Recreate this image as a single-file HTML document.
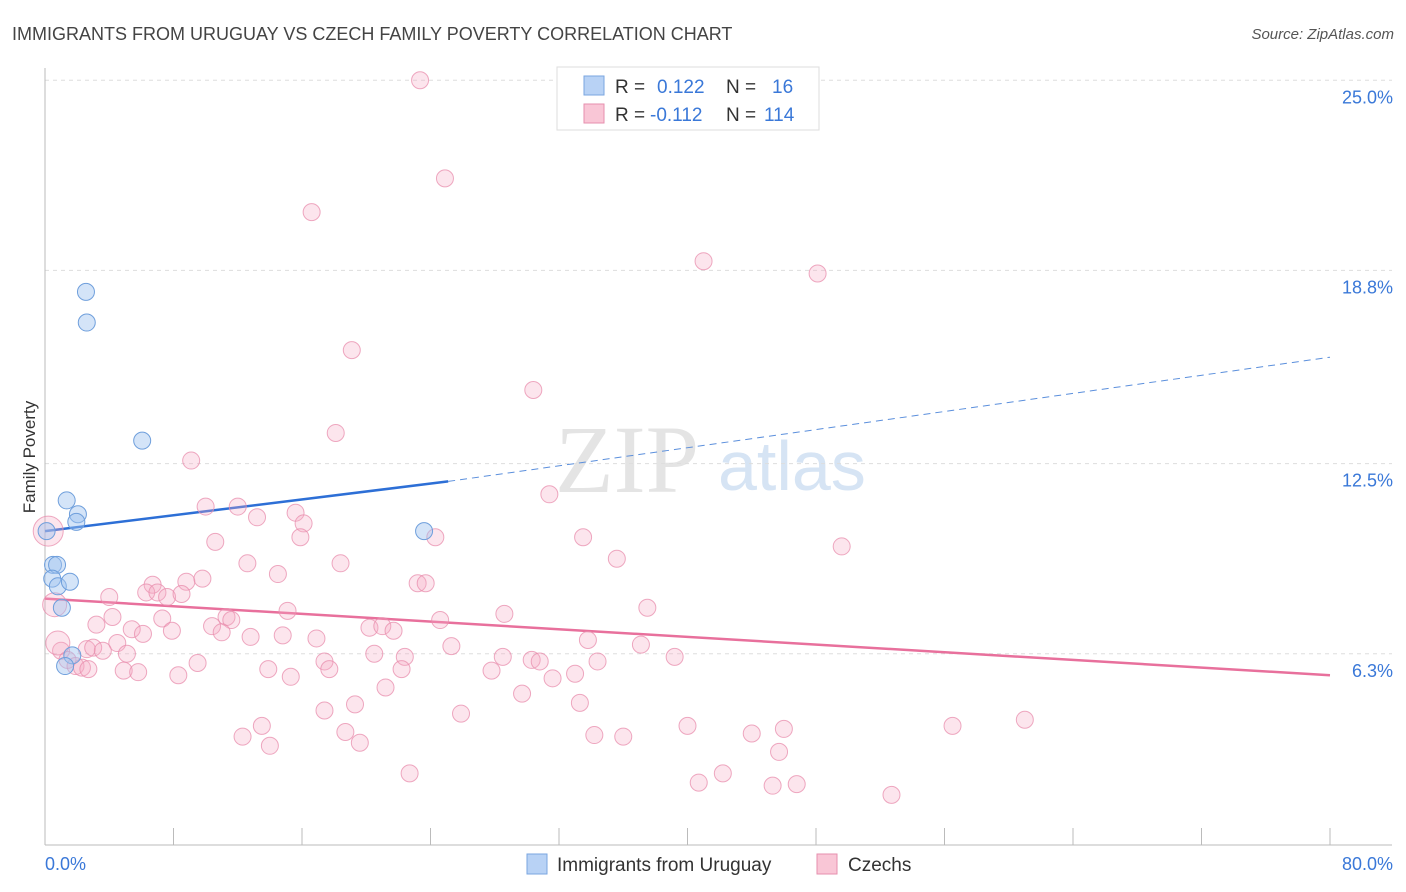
<!DOCTYPE html>
<html><head><meta charset="utf-8"><style>
body{margin:0;background:#fff;font-family:"Liberation Sans",sans-serif;}
svg{display:block}
</style></head><body>
<svg id="chart" width="1406" height="892" xmlns="http://www.w3.org/2000/svg">
<text x="12" y="40" font-size="18" fill="#444">IMMIGRANTS FROM URUGUAY VS CZECH FAMILY POVERTY CORRELATION CHART</text>
<text x="1394" y="39" font-size="15" fill="#555" font-style="italic" text-anchor="end">Source: ZipAtlas.com</text>
<text x="35" y="457" font-size="17" fill="#333" text-anchor="middle" transform="rotate(-90 35 457)">Family Poverty</text>
<g>
<text x="555" y="492" font-size="96" font-family="Liberation Serif,serif" fill="#e4e4e4">ZIP</text>
<text x="718" y="490" font-size="70" fill="#d6e4f4">atlas</text>
</g>
<g id="grid"></g><g id="axes"></g><g id="lines"></g><g id="pts"></g>
<g>
<rect x="557" y="67" width="262" height="63" fill="#fff" stroke="#ddd"/>
<rect x="584" y="76" width="20" height="19" fill="#b8d2f5" stroke="#7aa6e0"/>
<rect x="584" y="104" width="20" height="19" fill="#f9c6d6" stroke="#e68fae"/>
<text x="615" y="93" font-size="19" fill="#333">R = </text><text x="657" y="93" font-size="19" fill="#3a78d8">0.122</text>
<text x="726" y="93" font-size="19" fill="#333">N = </text><text x="772" y="93" font-size="19" fill="#3a78d8">16</text>
<text x="615" y="121" font-size="19" fill="#333">R = </text><text x="650" y="121" font-size="19" fill="#3a78d8">-0.112</text>
<text x="726" y="121" font-size="19" fill="#333">N = </text><text x="764" y="121" font-size="19" fill="#3a78d8">114</text>
</g>
<g>
<rect x="527" y="854" width="20" height="20" fill="#b8d2f5" stroke="#7aa6e0"/>
<text x="557" y="871" font-size="19" fill="#333">Immigrants from Uruguay</text>
<rect x="817" y="854" width="20" height="20" fill="#f9c6d6" stroke="#e68fae"/>
<text x="848" y="871" font-size="19" fill="#333">Czechs</text>
</g>
</svg>
<script>
const yTicks=[25.0,18.8,12.5,6.3];
const yTickLabels=["25.0%","18.8%","12.5%","6.3%"];
const xTicks=[0,8,16,24,32,40,48,56,64,72,80];
const blueX=[0.1,0.5,0.75,0.45,0.8,1.55,1.05,1.35,2.05,1.95,2.55,2.6,6.05,1.7,1.25,23.6];
const blueY=[10.3,9.2,9.2,8.75,8.5,8.65,7.8,11.3,10.85,10.6,18.1,17.1,13.25,6.25,5.9,10.3];
const pinkX=[23.35,24.9,16.6,41.0,48.1,19.1,30.4,18.1,9.1,31.4,10.0,12.0,13.2,15.6,16.1,15.9,24.3,33.5,49.6,10.6,35.6,12.6,18.4,14.5,6.7,8.8,9.8,23.2,23.7,4.0,6.3,7.0,7.6,8.5,37.5,15.1,28.6,24.6,4.2,7.3,11.3,11.6,3.2,10.4,5.4,7.9,11.0,20.2,21.0,21.7,33.8,16.9,14.8,12.8,6.1,4.5,2.6,3.0,3.6,5.1,1.0,1.4,25.3,37.1,20.5,22.4,9.5,17.4,28.5,30.3,30.8,34.4,39.2,1.9,2.3,2.7,4.9,5.8,8.3,13.9,15.3,17.7,22.2,27.8,31.6,33.0,21.2,29.7,19.3,33.3,17.4,25.9,13.5,12.3,18.7,19.6,14.0,34.2,36.0,40.0,44.0,46.0,56.5,61.0,45.7,22.7,42.2,40.7,45.3,46.8,52.7,0.6,0.8,0.2];
const pinkY=[25.0,21.8,20.7,19.1,18.7,16.2,14.9,13.5,12.6,11.5,11.1,11.1,10.75,10.9,10.55,10.1,10.1,10.1,9.8,9.95,9.4,9.25,9.25,8.9,8.55,8.65,8.75,8.6,8.6,8.15,8.3,8.3,8.15,8.25,7.8,7.7,7.6,7.4,7.5,7.45,7.5,7.4,7.25,7.2,7.1,7.05,7.0,7.15,7.2,7.05,6.75,6.8,6.9,6.85,6.95,6.65,6.45,6.5,6.4,6.3,6.4,6.1,6.55,6.6,6.3,6.2,6.0,6.05,6.2,6.1,6.05,6.05,6.2,5.9,5.85,5.8,5.75,5.7,5.6,5.8,5.55,5.8,5.8,5.75,5.5,5.65,5.2,5.0,4.65,4.7,4.45,4.35,3.95,3.6,3.75,3.4,3.3,3.65,3.6,3.95,3.7,3.85,3.95,4.15,3.1,2.4,2.4,2.1,2.0,2.05,1.7,7.9,6.65,10.3];
const bigPink=[111,112,113];
const blueTrend=[[0,10.3],[25.1,11.92],[80,15.97]];
const pinkTrend=[[0,8.1],[80,5.6]];
const NS="http://www.w3.org/2000/svg";
const X0=45,X1=1330,Y0=847,PXY=30.67;
const sx=v=>X0+(X1-X0)*v/80, sy=v=>Y0-v*PXY;
function mk(tag,attrs,parent){const e=document.createElementNS(NS,tag);for(const k in attrs)e.setAttribute(k,attrs[k]);parent.appendChild(e);return e;}
const grid=document.getElementById('grid'),axes=document.getElementById('axes'),lines=document.getElementById('lines'),pts=document.getElementById('pts');
yTicks.forEach((t,i)=>{
 const l=mk('line',{x1:X0,x2:1392,y1:sy(t),y2:sy(t),stroke:'#ddd','stroke-dasharray':'4,4'},grid);
 
 
 const tx=mk('text',{x:1393,y:sy(t)+23,'font-size':18,fill:'#3a78d8','text-anchor':'end'},grid);
 tx.textContent=yTickLabels[i];
 
 
});
const ax=mk('line',{x1:X0,x2:1392,y1:845,y2:845,stroke:'#bbb'},axes);


const ay=mk('line',{x1:X0,x2:X0,y1:68,y2:845,stroke:'#bbb'},axes);


xTicks.forEach(t=>{const l=mk('line',{x1:sx(t),x2:sx(t),y1:828,y2:845,stroke:'#bbb'},axes);
 
 });
const xl0=mk('text',{x:45,y:870,'font-size':18,fill:'#3a78d8'},axes);xl0.textContent='0.0%';


const xl1=mk('text',{x:1393,y:870,'font-size':18,fill:'#3a78d8','text-anchor':'end'},axes);xl1.textContent='80.0%';


pinkX.forEach((v,i)=>{const big=bigPink.includes(i);
 const c=mk('circle',{cx:sx(v),cy:sy(pinkY[i]),r:big?(i===113?15:12):8.5,fill:'rgba(246,168,196,0.3)',stroke:'rgba(232,140,172,0.75)','stroke-width':1},pts);
 
 });
blueX.forEach((v,i)=>{const c=mk('circle',{cx:sx(v),cy:sy(blueY[i]),r:8.5,fill:'rgba(160,196,240,0.45)',stroke:'#6f9fdc','stroke-width':1},pts);
 
 });
const b1=mk('line',{x1:sx(blueTrend[0][0]),y1:sy(blueTrend[0][1]),x2:sx(blueTrend[1][0]),y2:sy(blueTrend[1][1]),stroke:'#2d6fd6','stroke-width':2.5},lines);


const b2=mk('line',{x1:sx(blueTrend[1][0]),y1:sy(blueTrend[1][1]),x2:sx(blueTrend[2][0]),y2:sy(blueTrend[2][1]),stroke:'#5b8fdc','stroke-width':1,'stroke-dasharray':'7,5'},lines);


const p1=mk('line',{x1:sx(pinkTrend[0][0]),y1:sy(pinkTrend[0][1]),x2:sx(pinkTrend[1][0]),y2:sy(pinkTrend[1][1]),stroke:'#e8709c','stroke-width':2.5},lines);


</script>
</body></html>
